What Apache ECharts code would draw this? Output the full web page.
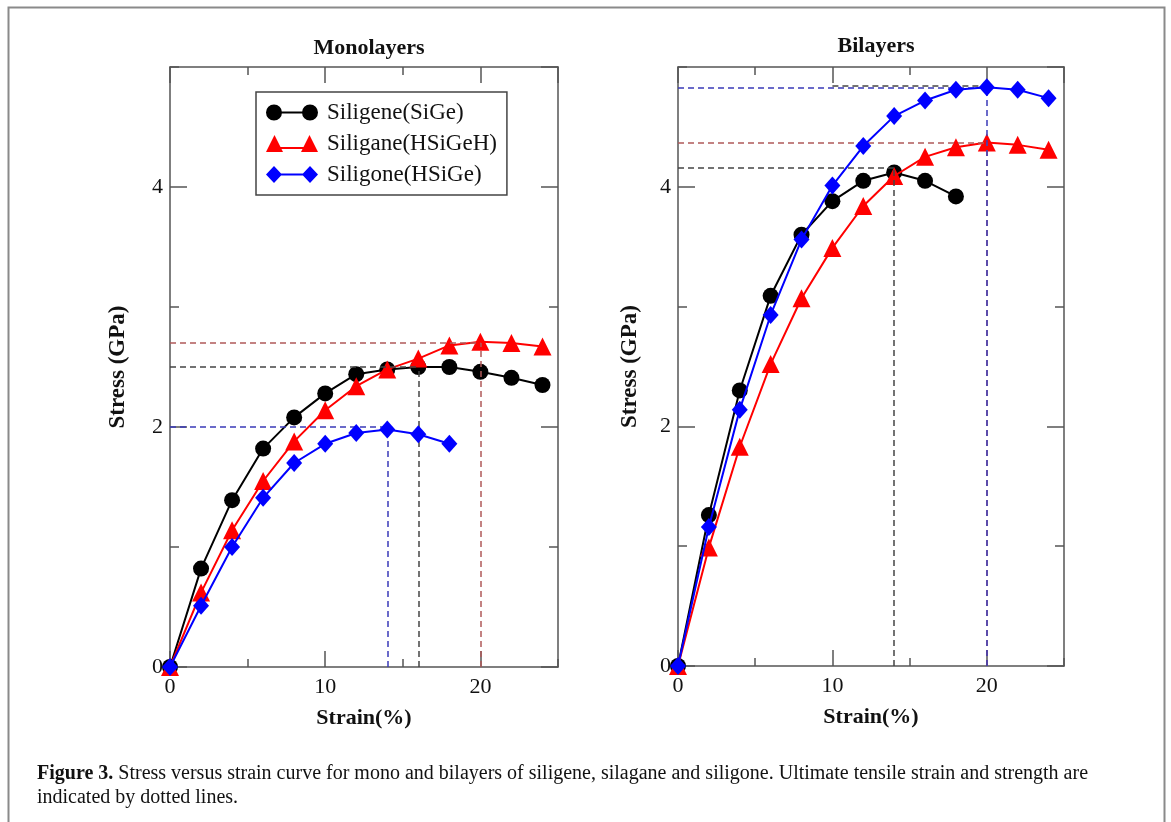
<!DOCTYPE html>
<html>
<head>
<meta charset="utf-8">
<script src="https://cdn.jsdelivr.net/npm/echarts@6/dist/echarts.min.js"></script>
<style>
  html, body { margin: 0; padding: 0; background: #fff; }
  #chart { width: 1171px; height: 822px; }
</style>
</head>
<body>
<div id="chart"></div>
<script>
// strain (%) sampled every 2 %
const strain = [0, 2, 4, 6, 8, 10, 12, 14, 16, 18, 20, 22, 24]
const seriesNames = ['Siligene(SiGe)', 'Siligane(HSiGeH)', 'Siligone(HSiGe)']

// monolayers, stress in GPa
const monoSiGe = [0, 0.82, 1.39, 1.82, 2.08, 2.28, 2.44, 2.48, 2.50, 2.50, 2.46, 2.41, 2.35]
const monoHSiGeH = [0, 0.62, 1.14, 1.55, 1.88, 2.14, 2.34, 2.48, 2.57, 2.68, 2.71, 2.70, 2.67]
const monoHSiGe = [0, 0.51, 1.00, 1.41, 1.70, 1.86, 1.95, 1.98, 1.94, 1.86]

// bilayers, stress in GPa
const biSiGe = [0, 1.26, 2.30, 3.09, 3.60, 3.88, 4.05, 4.12, 4.05, 3.92]
const biHSiGeH = [0, 0.99, 1.83, 2.52, 3.07, 3.49, 3.84, 4.09, 4.25, 4.33, 4.37, 4.35, 4.31]
const biHSiGe = [0, 1.16, 2.14, 2.93, 3.56, 4.01, 4.34, 4.59, 4.72, 4.81, 4.83, 4.81, 4.74]

// ultimate tensile strain / strength (dotted guide lines)
const monoPeakStrain = [16, 20, 14]
const monoPeakStress = [2.50, 2.70, 2.00]
const biPeakStrain = [14, 20, 20]
const biPeakStress = [4.16, 4.37, 4.83]
const biExtraGuide = [10, 20, 4.84] // short black dashed piece along the top in bilayers

// axis ticks
const xRange = [0, 25]
const yRange = [0, 5]
const xMajor = 10, xMinor = 5
const yMajor = 2, yMinor = 1

const serif = '"Liberation Serif", "DejaVu Serif", serif'
const frameColor = '#555'
const colors = ['#000000', '#ff0000', '#0000ff']
const guideColors = ['#444444', '#b05a5a', '#3a3ab8']
const symbols = ['circle', 'triangle', 'diamond']
const symbolSizes = [16, 18, [16, 18]]
const legendIcons = [
  'path://M0,8.5A8,8 0 1 1 16,8.5A8,8 0 1 1 0,8.5ZM15,7.5L37,7.5L37,9.5L15,9.5ZM36,8.5A8,8 0 1 1 52,8.5A8,8 0 1 1 36,8.5Z',
  'path://M0,17L8.5,0L17,17ZM14,12L38,12L38,14L14,14ZM35,17L43.5,0L52,17Z',
  'path://M8,0L16,8.5L8,17L0,8.5ZM14,7.5L38,7.5L38,9.5L14,9.5ZM44,0L52,8.5L44,17L36,8.5Z',
]

const grids = [
  { left: 170, top: 67, width: 388, height: 600 },
  { left: 678, top: 67, width: 386, height: 599 },
]

const tickStyle = { color: frameColor, width: 1.5 }

function xAxesFor(g) {
  const base = {
    gridIndex: g, type: 'value', min: xRange[0], max: xRange[1],
    splitLine: { show: false },
  }
  const line = { show: true, onZero: false, lineStyle: tickStyle }
  const noLine = { show: false, onZero: false }
  return [
    {
      ...base, position: 'bottom', interval: xMajor,
      axisLine: line,
      axisTick: { inside: true, length: 16, lineStyle: tickStyle },
      axisLabel: { showMaxLabel: false, fontFamily: serif, fontSize: 22, color: '#111', margin: 9 },
      name: 'Strain(%)', nameLocation: 'middle', nameGap: 40,
      nameTextStyle: { fontFamily: serif, fontSize: 22, fontWeight: 'bold', color: '#111' },
    },
    {
      ...base, position: 'bottom', interval: xMinor,
      axisLine: noLine,
      axisTick: { inside: true, length: 8, lineStyle: tickStyle },
      axisLabel: { show: false },
    },
    {
      ...base, position: 'top', interval: xMajor,
      axisLine: line,
      axisTick: { inside: true, length: 16, lineStyle: tickStyle },
      axisLabel: { show: false },
    },
    {
      ...base, position: 'top', interval: xMinor,
      axisLine: noLine,
      axisTick: { inside: true, length: 8, lineStyle: tickStyle },
      axisLabel: { show: false },
    },
  ]
}

function yAxesFor(g, nameGap) {
  const base = {
    gridIndex: g, type: 'value', min: yRange[0], max: yRange[1],
    splitLine: { show: false },
  }
  const line = { show: true, onZero: false, lineStyle: tickStyle }
  const noLine = { show: false, onZero: false }
  return [
    {
      ...base, position: 'left', interval: yMajor,
      axisLine: line,
      axisTick: { inside: true, length: 17, lineStyle: tickStyle },
      axisLabel: { showMaxLabel: false, fontFamily: serif, fontSize: 22, color: '#111', margin: 7 },
      name: 'Stress (GPa)', nameLocation: 'middle', nameGap: nameGap,
      nameTextStyle: { fontFamily: serif, fontSize: 23, fontWeight: 'bold', color: '#111' },
    },
    {
      ...base, position: 'left', interval: yMinor,
      axisLine: noLine,
      axisTick: { inside: true, length: 9, lineStyle: tickStyle },
      axisLabel: { show: false },
    },
    {
      ...base, position: 'right', interval: yMajor,
      axisLine: line,
      axisTick: { inside: true, length: 17, lineStyle: tickStyle },
      axisLabel: { show: false },
    },
    {
      ...base, position: 'right', interval: yMinor,
      axisLine: noLine,
      axisTick: { inside: true, length: 9, lineStyle: tickStyle },
      axisLabel: { show: false },
    },
  ]
}

function guideLines(i, peakX, peakY, extra) {
  const data = [
    [{ coord: [0, peakY] }, { coord: [peakX, peakY] }],
    [{ coord: [peakX, 0] }, { coord: [peakX, peakY] }],
  ]
  if (extra) data.push([{ coord: [extra[0], extra[2]] }, { coord: [extra[1], extra[2]] }])
  return {
    silent: true,
    symbol: 'none',
    animation: false,
    label: { show: false },
    lineStyle: { color: guideColors[i], type: [6, 4], width: 1.5 },
    emphasis: { disabled: true },
    data,
  }
}

function makeSeries(g, values, peaksX, peaksY) {
  return values.map((vals, i) => ({
    name: seriesNames[i],
    type: 'line',
    xAxisIndex: g * 4,
    yAxisIndex: g * 4,
    data: vals.map((v, k) => [strain[k], v]),
    symbol: symbols[i],
    symbolSize: symbolSizes[i],
    clip: false,
    z: 3 + i,
    lineStyle: { color: colors[i], width: 2 },
    itemStyle: { color: colors[i] },
    emphasis: { disabled: true },
    markLine: guideLines(i, peaksX[i], peaksY[i], g === 1 && i === 0 ? biExtraGuide : null),
  }))
}

const chart = echarts.init(document.getElementById('chart'), null, { renderer: 'canvas' })

chart.setOption({
  animation: false,
  backgroundColor: '#fff',
  title: [
    {
      text: 'Monolayers', left: 364, top: 32, textAlign: 'center',
      textStyle: { fontFamily: serif, fontSize: 22, fontWeight: 'bold', color: '#111' },
    },
    {
      text: 'Bilayers', left: 871, top: 30, textAlign: 'center',
      textStyle: { fontFamily: serif, fontSize: 22, fontWeight: 'bold', color: '#111' },
    },
    {
      text: '{b|Figure 3.} Stress versus strain curve for mono and bilayers of siligene, silagane and siligone. Ultimate tensile strain and strength are\nindicated by dotted lines.',
      left: 32, top: 757,
      textStyle: {
        fontFamily: serif, fontSize: 20, fontWeight: 'normal', color: '#111', lineHeight: 24,
        rich: { b: { fontFamily: serif, fontSize: 20, fontWeight: 'bold', color: '#111', lineHeight: 24 } },
      },
    },
  ],
  legend: {
    orient: 'vertical',
    left: 256, top: 92,
    padding: [9, 10, 9, 10],
    itemGap: 8,
    itemWidth: 52, itemHeight: 17,
    borderColor: '#444', borderWidth: 1.5,
    backgroundColor: '#fff',
    selectedMode: false,
    data: seriesNames.map((n, i) => ({ name: n, icon: legendIcons[i] })),
    textStyle: { fontFamily: serif, fontSize: 23, color: '#111', padding: [0, 0, 0, 4] },
  },
  grid: grids,
  xAxis: [...xAxesFor(0), ...xAxesFor(1)],
  yAxis: [...yAxesFor(0, 40), ...yAxesFor(1, 36)],
  series: [
    ...makeSeries(0, [monoSiGe, monoHSiGeH, monoHSiGe], monoPeakStrain, monoPeakStress),
    ...makeSeries(1, [biSiGe, biHSiGeH, biHSiGe], biPeakStrain, biPeakStress),
  ],
  graphic: [
    {
      type: 'rect', silent: true, z: -1,
      shape: { x: 8.5, y: 7.5, width: 1156, height: 840 },
      style: { fill: 'none', stroke: '#8a8a8a', lineWidth: 2 },
    },
  ],
})
</script>
</body>
</html>
